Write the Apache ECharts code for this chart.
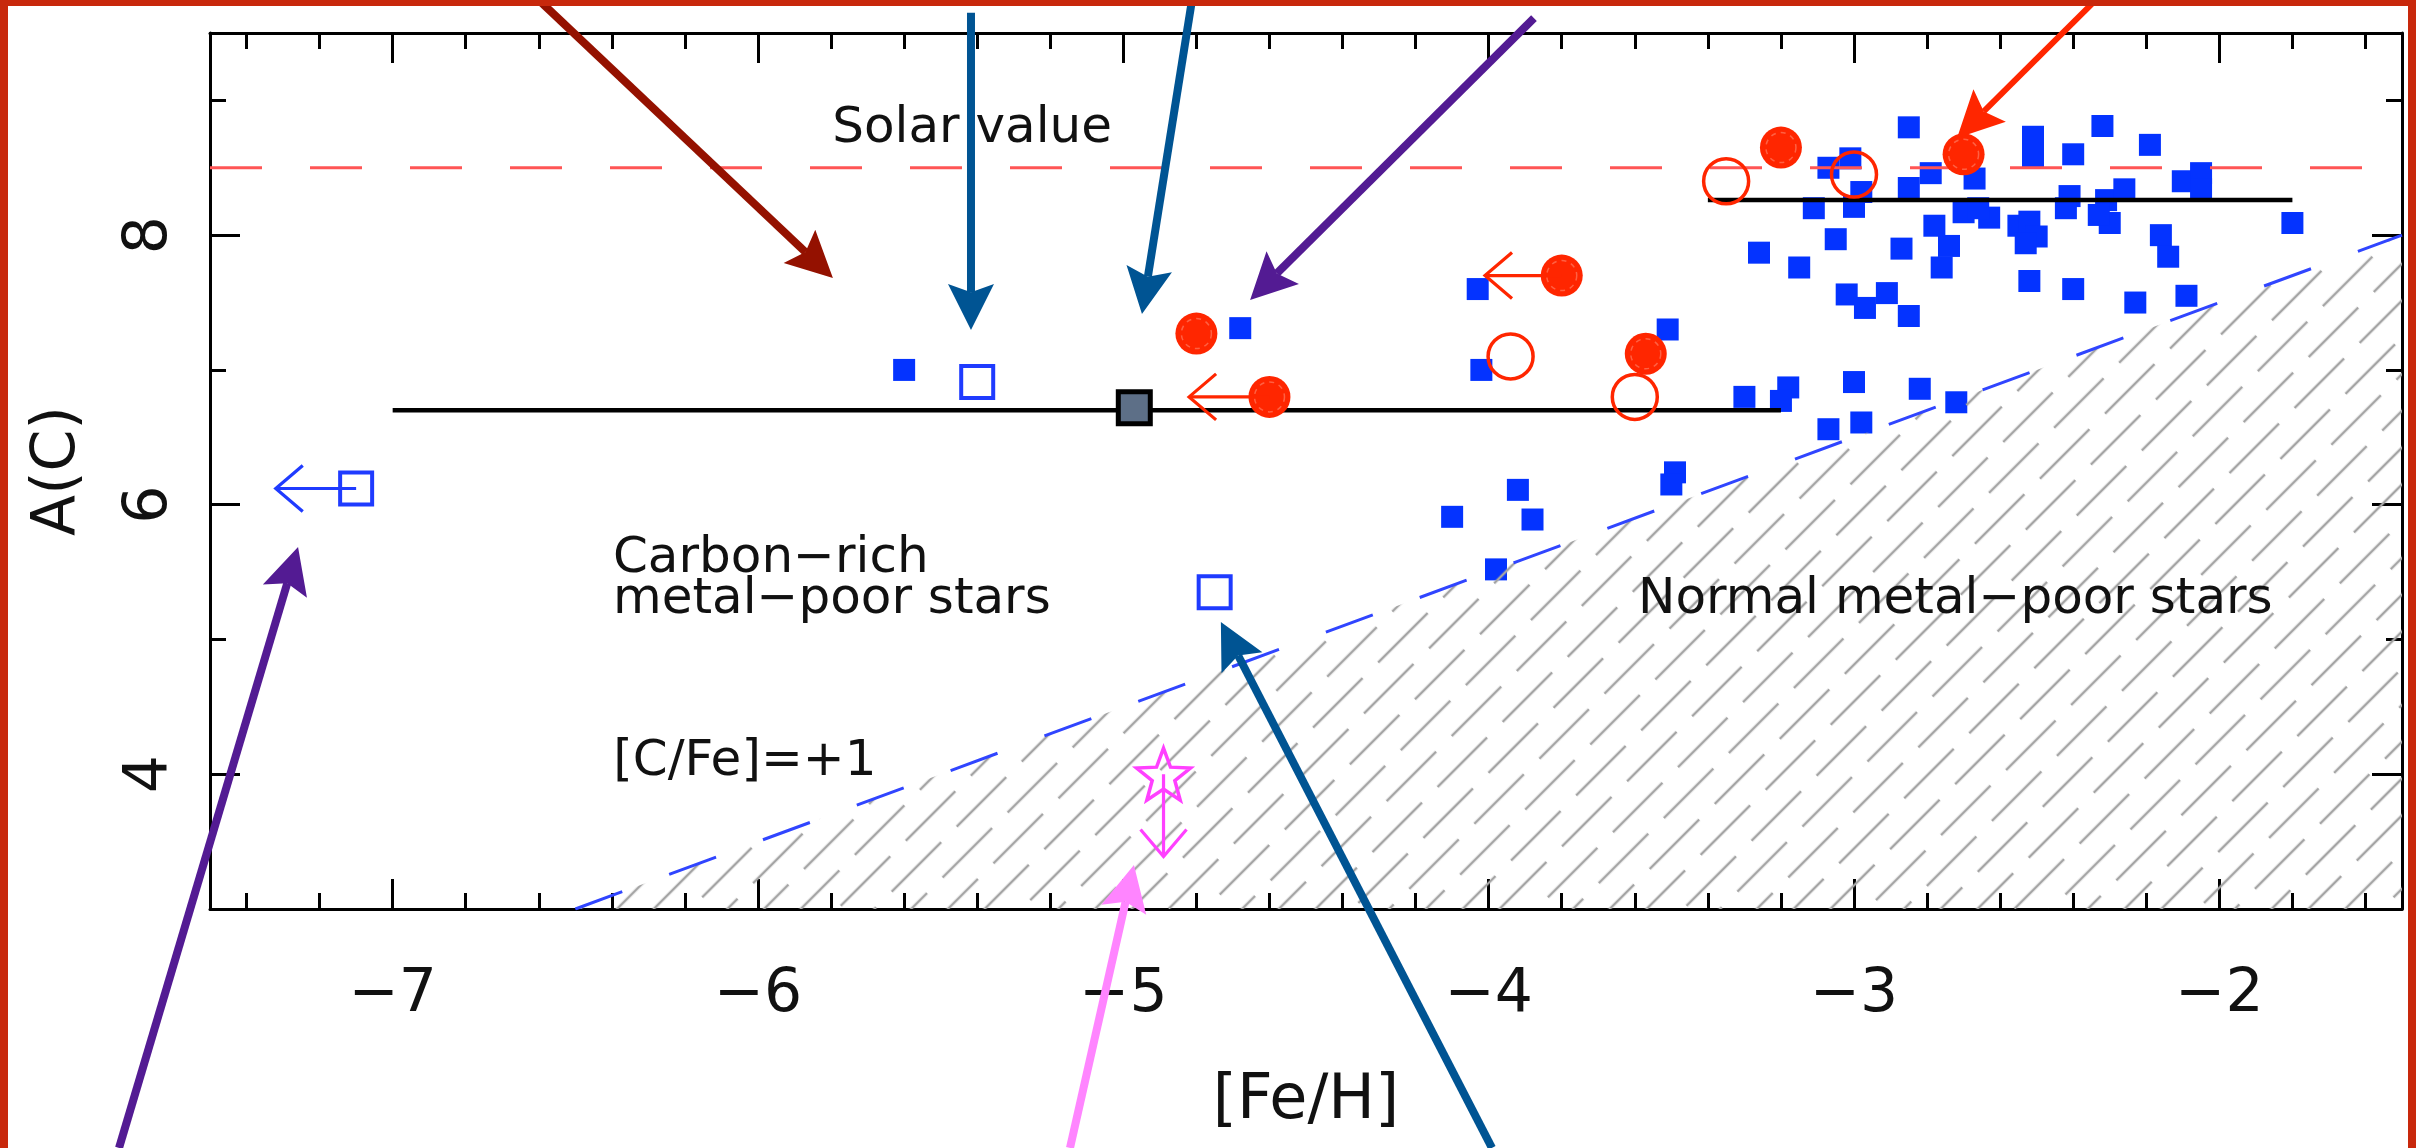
<!DOCTYPE html>
<html><head><meta charset="utf-8">
<script src="https://cdn.jsdelivr.net/npm/echarts@6/dist/echarts.min.js"></script>
<style>html,body{margin:0;padding:0;background:#fff}#c{width:2416px;height:1148px}</style>
</head><body><div id="c"></div>
<script>
// ---------------- data ----------------
const xRange = [-7.5, -1.5];
const yRange = [3, 9.5];
// normal / CEMP stars (filled blue squares)
const blueFilled = [
  [-5.60,7.00],[-4.68,7.31],
  [-4.03,7.60],[-4.02,7.00],[-3.51,7.30],
  [-4.10,5.91],[-3.92,6.11],[-3.88,5.89],[-3.98,5.52],[-3.49,6.24],[-3.50,6.15],
  [-3.30,6.80],[-3.18,6.87],[-3.20,6.77],[-3.00,6.91],[-3.07,6.56],[-2.98,6.61],[-2.82,6.86],[-2.72,6.76],
  [-3.26,7.87],[-3.15,7.76],[-3.05,7.97],[-3.02,7.56],[-2.97,7.46],[-2.91,7.57],[-2.85,7.40],
  [-2.87,7.90],[-2.76,7.76],[-2.74,7.92],[-2.78,8.07],
  [-3.11,8.20],[-3.00,8.21],[-2.98,8.32],[-2.85,8.35],[-3.07,8.50],[-3.01,8.57],[-2.79,8.46],[-2.67,8.42],
  [-2.85,8.80],[-2.51,8.73],[-2.51,8.58],[-2.40,8.60],[-2.32,8.81],[-2.19,8.67],
  [-2.70,8.17],[-2.63,8.13],[-2.66,8.20],[-2.55,8.07],[-2.52,8.10],[-2.50,7.99],[-2.53,7.94],
  [-2.52,7.66],[-2.40,7.60],
  [-2.41,8.29],[-2.42,8.20],[-2.31,8.26],[-2.30,8.09],[-2.33,8.15],[-2.26,8.34],
  [-2.23,7.50],[-2.16,8.00],[-2.14,7.84],[-2.09,7.55],[-2.10,8.40],[-2.05,8.46],[-2.05,8.34],[-1.80,8.09]
];
const blueOpen = [[-5.40,6.91],[-4.75,5.35],[-7.10,6.12]];
const redFilled = [[-3.20,8.65],[-2.70,8.60],[-3.80,7.70],[-3.57,7.12],[-4.80,7.27],[-4.60,6.80]];
const redOpen = [[-3.35,8.40],[-3.00,8.45],[-3.94,7.10],[-3.60,6.80]];
const newStar = [[-4.97,6.72]];
const limitStar = [[-4.89,4.00]];
// limit arrows: [from x, from y, to x, to y]
const limitArrows = [[-7.10,6.12,-7.32,6.12],[-3.80,7.70,-4.01,7.70],[-4.60,6.80,-4.82,6.80],[-4.89,4.00,-4.89,3.39]];
const limitColors = ['#1f3bff','#ff2600','#ff2600','#ff40ff'];
// mean A(C) bands
const meanLow = [[-7.0,6.70],[-3.2,6.70]];
const meanHigh = [[-3.4,8.26],[-1.8,8.26]];
const solarLine = [[-7.5,8.5],[-1.5,8.5]];
const cfeLine = [[-6.5,3.0],[-1.5,8.0]];
// annotation arrows (tail x, tail y, head x, head y) in data units
const annotationArrows = [
  [-6.600,9.745,-5.795,7.682],
  [-5.417,9.650,-5.417,7.296],
  [-4.812,9.745,-4.949,7.415],
  [-3.876,9.611,-4.653,7.519],
  [-2.338,9.745,-2.718,8.721],
  [-7.749,1.227,-7.259,5.686],
  [-5.146,1.227,-4.971,3.327],
  [-3.991,1.227,-4.733,5.130]
];
const arrowColors = ['#941100','#005493','#005493','#531b93','#ff2600','#531b93','#ff85ff','#005493'];
// text notes: x (left), y (middle)
const notePos = [[-5.797,8.791],[-6.397,5.597],[-6.397,5.293],[-6.396,4.091],[-3.591,5.293]];
const noteText = ['Solar value','Carbon\u2212rich','metal\u2212poor stars','[C/Fe]=+1','Normal metal\u2212poor stars'];

// ---------------- styling helpers ----------------
const FONT = '"DejaVu Sans", "Liberation Sans", sans-serif';
function makeHatch() {
  const W = 92, S = 26, N = 2, H = S * N;
  const c = document.createElement('canvas'); c.width = W; c.height = H;
  const g = c.getContext('2d');
  g.strokeStyle = '#a4a4a4'; g.lineWidth = 2.6;
  const dash = 70, offs = [0, 46];
  for (let i = 0; i < N; i++) {
    const y = S * i + S / 2, o = offs[i];
    g.beginPath(); g.moveTo(o, y); g.lineTo(Math.min(o + dash, W), y);
    if (o + dash > W) { g.moveTo(0, y); g.lineTo(o + dash - W, y); }
    g.stroke();
  }
  return c;
}
const hatch = { image: makeHatch(), repeat: 'repeat', rotation: -45 * Math.PI / 180 };

const starPath = 'path://M50,0L62.34,33.01L97.55,34.55L69.97,56.49L79.39,90.45L50,71L20.61,90.45L30.03,56.49L2.45,34.55L37.66,33.01Z';

function arrowItem(params, api) {
  const a = api.coord([api.value(0), api.value(1)]);
  const b = api.coord([api.value(2), api.value(3)]);
  const col = arrowColors[params.dataIndex];
  const w = col === '#ff2600' ? 6 : 8;
  const dx = b[0] - a[0], dy = b[1] - a[1], L = Math.hypot(dx, dy);
  const ux = dx / L, uy = dy / L, nx = -uy, ny = ux;
  const hl = 46, hw = 23, nf = 0.82;
  const base = [b[0] - ux * hl, b[1] - uy * hl];
  const notch = [b[0] - ux * hl * nf, b[1] - uy * hl * nf];
  return { type: 'group', children: [
    { type: 'line', shape: { x1: a[0], y1: a[1], x2: notch[0], y2: notch[1] }, style: { stroke: col, lineWidth: w } },
    { type: 'polygon', shape: { points: [b, [base[0] + nx * hw, base[1] + ny * hw], notch, [base[0] - nx * hw, base[1] - ny * hw]] }, style: { fill: col } }
  ] };
}
function limitItem(params, api) {
  const a = api.coord([api.value(0), api.value(1)]);
  const b = api.coord([api.value(2), api.value(3)]);
  const col = limitColors[params.dataIndex];
  const dx = b[0] - a[0], dy = b[1] - a[1], L = Math.hypot(dx, dy);
  const ux = dx / L, uy = dy / L, nx = -uy, ny = ux;
  const back = 27, half = 23;
  return { type: 'group', children: [
    { type: 'line', shape: { x1: a[0], y1: a[1], x2: b[0], y2: b[1] }, style: { stroke: col, lineWidth: 3.2 } },
    { type: 'polyline', shape: { points: [[b[0] - ux * back + nx * half, b[1] - uy * back + ny * half], b, [b[0] - ux * back - nx * half, b[1] - uy * back - ny * half]] }, style: { stroke: col, lineWidth: 3.2, fill: null } }
  ] };
}
function noteItem(params, api) {
  const p = api.coord([api.value(0), api.value(1)]);
  return { type: 'text', x: p[0], y: p[1], style: { text: noteText[params.dataIndex], font: '50px ' + FONT, fill: '#111', textAlign: 'left', textVerticalAlign: 'middle' } };
}

const minus = v => String(v).replace('-', '\u2212');
const axisCommon = {
  type: 'value', min: xRange[0], max: xRange[1],
  axisLine: { show: true, onZero: false, lineStyle: { color: '#000', width: 3 } },
  axisTick: { show: true, inside: true, length: 30, lineStyle: { color: '#000', width: 3 } },
  minorTick: { show: true, splitNumber: 5, length: 16, lineStyle: { color: '#000', width: 3 } },
  splitLine: { show: false }, minorSplitLine: { show: false }
};
const yCommon = Object.assign({}, axisCommon, { min: yRange[0], max: yRange[1], splitNumber: 3,
  minorTick: { show: true, splitNumber: 2, length: 16, lineStyle: { color: '#000', width: 3 } } });

const chart = echarts.init(document.getElementById('c'), null, { renderer: 'canvas' });
chart.setOption({
  animation: false,
  backgroundColor: '#ffffff',
  grid: { left: 210, right: 14, top: 33, bottom: 239, containLabel: false, outerBoundsMode: 'none' },
  xAxis: [
    Object.assign({}, axisCommon, { position: 'bottom', splitNumber: 6,
      name: '[Fe/H]', nameLocation: 'middle', nameGap: 162,
      nameTextStyle: { fontFamily: FONT, fontSize: 62, color: '#111' },
      axisLabel: { show: true, margin: 56, fontFamily: FONT, fontSize: 60, color: '#111', showMinLabel: false, showMaxLabel: false, formatter: minus } }),
    Object.assign({}, axisCommon, { position: 'top', splitNumber: 6, axisLabel: { show: false } })
  ],
  yAxis: [
    Object.assign({}, yCommon, { position: 'left',
      name: 'A(C)', nameLocation: 'middle', nameGap: 122, nameRotate: 90,
      nameTextStyle: { fontFamily: FONT, fontSize: 60, color: '#111' },
      axisLabel: { show: true, rotate: 90, margin: 30, fontFamily: FONT, fontSize: 60, color: '#111', showMinLabel: false, showMaxLabel: false } }),
    Object.assign({}, yCommon, { position: 'right', axisLabel: { show: false } })
  ],
  series: [
    { name: 'normal stars', type: 'scatter', data: blueFilled, symbol: 'rect', symbolSize: 22, itemStyle: { color: '#0433ff', opacity: 1 }, z: 2 },
    { name: '[C/Fe]=+1', type: 'line', data: cfeLine, showSymbol: false, symbol: 'none', z: 3,
      lineStyle: { color: '#3045ff', width: 3, type: [50, 50] },
      areaStyle: { origin: 'start', color: hatch, opacity: 1 } },
    { name: 'solar', type: 'line', data: solarLine, showSymbol: false, symbol: 'none', z: 3,
      lineStyle: { color: '#ff5555', width: 3, type: [52, 48] } },
    { name: 'mean low', type: 'line', data: meanLow, showSymbol: false, symbol: 'none', z: 4, lineStyle: { color: '#000', width: 4.5 } },
    { name: 'mean high', type: 'line', data: meanHigh, showSymbol: false, symbol: 'none', z: 4, lineStyle: { color: '#000', width: 4.5 } },
    { name: 'red filled', type: 'scatter', data: redFilled, symbol: 'circle', symbolSize: 42, itemStyle: { color: '#ff2600', opacity: 1 }, z: 5 },
    { name: 'red filled ring', type: 'scatter', data: redFilled, symbol: 'circle', symbolSize: 30, silent: true,
      itemStyle: { color: 'rgba(0,0,0,0)', borderColor: 'rgba(255,170,150,0.55)', borderWidth: 1.5, borderType: [5, 5] }, z: 5 },
    { name: 'red open', type: 'scatter', data: redOpen, symbol: 'circle', symbolSize: 45,
      itemStyle: { color: 'rgba(0,0,0,0)', borderColor: '#ff2600', borderWidth: 3.5, opacity: 1 }, z: 5 },
    { name: 'blue open', type: 'scatter', data: blueOpen, symbol: 'rect', symbolSize: 32,
      itemStyle: { color: 'rgba(0,0,0,0)', borderColor: '#1f3bff', borderWidth: 4, opacity: 1 }, z: 6 },
    { name: 'new star', type: 'scatter', data: newStar, symbol: 'rect', symbolSize: 32,
      itemStyle: { color: '#5d6f87', borderColor: '#000', borderWidth: 5, opacity: 1 }, z: 6 },
    { name: 'limit star', type: 'scatter', data: limitStar, symbol: starPath, symbolSize: [54, 52],
      itemStyle: { color: 'rgba(0,0,0,0)', borderColor: '#ff40ff', borderWidth: 3.5, opacity: 1 }, z: 6 },
    { name: 'limits', type: 'custom', data: limitArrows, renderItem: limitItem, clip: false, z: 6,
      encode: { x: [0, 2], y: [1, 3] } },
    { name: 'notes', type: 'custom', data: notePos, renderItem: noteItem, clip: false, z: 7, encode: { x: 0, y: 1 } },
    { name: 'arrows', type: 'custom', data: annotationArrows, renderItem: arrowItem, clip: false, z: 8,
      encode: { x: [0, 2], y: [1, 3] } }
  ],
  graphic: [
    { type: 'rect', z: 100, shape: { x: 0, y: 0, width: 2416, height: 6 }, style: { fill: '#c8280c' } },
    { type: 'rect', z: 100, shape: { x: 0, y: 0, width: 8, height: 1148 }, style: { fill: '#c8280c' } },
    { type: 'rect', z: 100, shape: { x: 2408, y: 0, width: 8, height: 1148 }, style: { fill: '#c8280c' } }
  ]
});
</script></body></html>
